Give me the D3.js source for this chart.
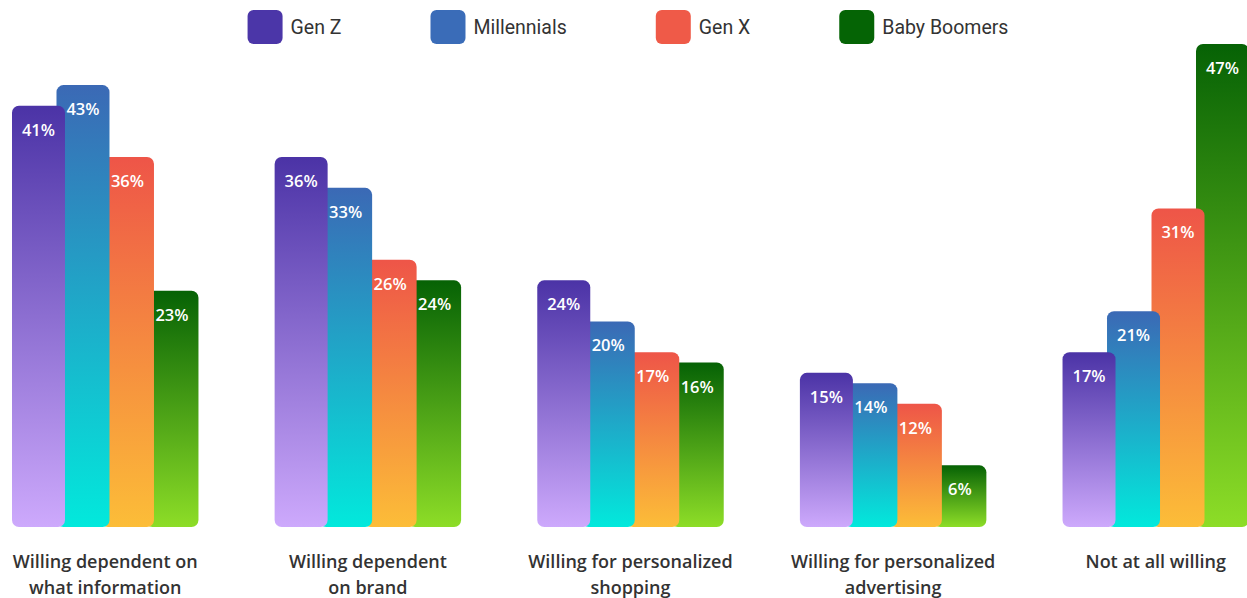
<!DOCTYPE html>
<html>
<head>
<meta charset="utf-8">
<script src="https://cdn.jsdelivr.net/npm/d3@7"></script>
<style>
  html, body { margin: 0; padding: 0; background: #ffffff; }
  svg { display: block; }
</style>
</head>
<body>
<svg id="chart" width="1247" height="598"></svg>
<script>
const categories = [
  ["Willing dependent on", "what information"],
  ["Willing dependent", "on brand"],
  ["Willing for personalized", "shopping"],
  ["Willing for personalized", "advertising"],
  ["Not at all willing"]
];
const seriesNames = ["Gen Z", "Millennials", "Gen X", "Baby Boomers"];
const genZ        = [41, 36, 24, 15, 17];
const millennials = [43, 33, 20, 14, 21];
const genX        = [36, 26, 17, 12, 31];
const boomers     = [23, 24, 16, 6, 47];
const seriesValues = [genZ, millennials, genX, boomers];

const legendColors = ["#4b36a8", "#3a6cb8", "#ef5a48", "#056405"];
const gradTop      = ["#4b33a6", "#3b69b5", "#ee5548", "#066205"];
const gradBottom   = ["#cda9fc", "#02e9dc", "#fcbd38", "#8ddd27"];

const svg = d3.select("#chart");

const defs = svg.append("defs");
seriesNames.forEach((s, i) => {
  const g = defs.append("linearGradient")
    .attr("id", "grad" + i)
    .attr("x1", 0).attr("y1", 0).attr("x2", 0).attr("y2", 1);
  g.append("stop").attr("offset", "0%").attr("stop-color", gradTop[i]);
  g.append("stop").attr("offset", "100%").attr("stop-color", gradBottom[i]);
});

const catIdx = categories.map((c, i) => i);
const x0 = d3.scaleBand().domain(catIdx).range([12, 1249]).paddingInner(0.29).paddingOuter(0);
const barW = 53;
const x1 = d3.scalePoint().domain(d3.range(seriesNames.length)).range([0, x0.bandwidth() - barW]);
const maxV = d3.max(seriesValues.flat());
const y = d3.scaleLinear().domain([0, maxV]).range([527, 44]);

const data = [];
catIdx.forEach(ci => {
  seriesValues.forEach((arr, si) => {
    data.push({ ci, si, v: arr[ci] });
  });
});
// draw later series first so earlier series sit on top
const drawOrder = data.slice().sort((a, b) => (a.ci - b.ci) || (b.si - a.si));

const bars = svg.append("g");
bars.selectAll("rect").data(drawOrder).enter().append("rect")
  .attr("x", d => x0(d.ci) + x1(d.si))
  .attr("y", d => y(d.v))
  .attr("width", barW)
  .attr("height", d => y(0) - y(d.v))
  .attr("rx", 7).attr("ry", 7)
  .attr("fill", d => "url(#grad" + d.si + ")");

svg.append("g").selectAll("text").data(data).enter().append("text")
  .attr("x", d => x0(d.ci) + x1(d.si) + barW / 2)
  .attr("y", d => y(d.v) + 30)
  .attr("text-anchor", "middle")
  .attr("fill", "#ffffff")
  .attr("font-family", "'Open Sans', sans-serif")
  .attr("font-weight", 600)
  .attr("font-size", 16.5)
  .text(d => d.v + "%");

// category labels
const catG = svg.append("g");
categories.forEach((lines, ci) => {
  const t = catG.append("text")
    .attr("x", x0(ci) + x0.bandwidth() / 2)
    .attr("y", 568)
    .attr("text-anchor", "middle")
    .attr("fill", "#333333")
    .attr("font-family", "'Open Sans', sans-serif")
    .attr("font-weight", 600)
    .attr("font-size", 18);
  lines.forEach((ln, li) => {
    t.append("tspan").attr("x", x0(ci) + x0.bandwidth() / 2).attr("dy", li === 0 ? 0 : 26).text(ln);
  });
});

// legend
const leg = svg.append("g");
let cx = 0;
seriesNames.forEach((s, i) => {
  const g = leg.append("g");
  g.append("rect").attr("x", 0).attr("y", 10).attr("width", 35).attr("height", 34)
    .attr("rx", 6).attr("ry", 6).attr("fill", legendColors[i]);
  const t = g.append("text").attr("x", 43).attr("y", 34)
    .attr("fill", "#333333")
    .attr("font-family", "Roboto, sans-serif")
    .attr("font-size", 19.5)
    .text(s);
  const tw = t.node().getComputedTextLength();
  g.attr("transform", "translate(" + cx + ",0)");
  cx += 43 + tw + 89;
});
const totalW = cx - 89;
leg.attr("transform", "translate(" + (628 - totalW / 2) + ",0)");
</script>
</body>
</html>
